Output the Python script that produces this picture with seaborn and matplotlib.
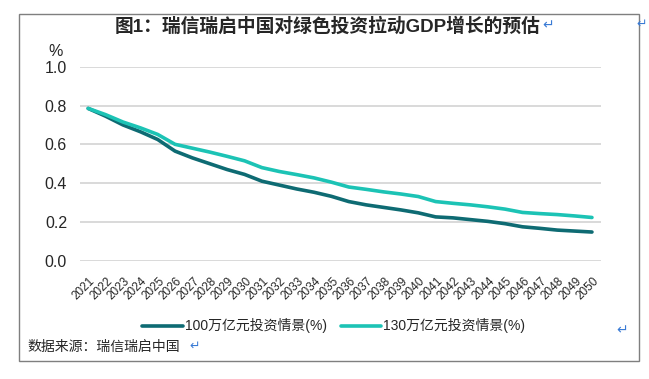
import matplotlib
matplotlib.use("Agg")
import matplotlib.pyplot as plt
import matplotlib.transforms as mtransforms
from matplotlib.font_manager import FontProperties
from matplotlib.patches import Rectangle
import pandas as pd
import seaborn as sns

# values
years = list(range(2021, 2051))
invest_100 = [0.785, 0.745, 0.700, 0.665, 0.625, 0.565, 0.530, 0.500, 0.470, 0.445,
              0.410, 0.390, 0.370, 0.353, 0.332, 0.305, 0.288, 0.275, 0.262, 0.247,
              0.226, 0.221, 0.212, 0.203, 0.191, 0.175, 0.167, 0.158, 0.153, 0.148]
invest_130 = [0.785, 0.753, 0.715, 0.685, 0.651, 0.600, 0.580, 0.560, 0.538, 0.515,
              0.480, 0.460, 0.444, 0.427, 0.405, 0.380, 0.368, 0.355, 0.344, 0.331,
              0.305, 0.296, 0.288, 0.278, 0.266, 0.249, 0.243, 0.238, 0.231, 0.223]
series_names = ["100万亿元投资情景(%)", "130万亿元投资情景(%)"]
series_colors = ["#0e6b73", "#1cc3b5"]
y_ticks = [0.0, 0.2, 0.4, 0.6, 0.8, 1.0]
title_text = "图1：瑞信瑞启中国对绿色投资拉动GDP增长的预估"
source_text = "数据来源：瑞信瑞启中国"
para_mark = "\u21b5"

df = pd.DataFrame({
    "year": years * 2,
    "value": invest_100 + invest_130,
    "scenario": [series_names[0]] * len(years) + [series_names[1]] * len(years),
})

sns.set_theme(style="white")
fonts = ["Liberation Sans", "Noto Sans CJK SC", "DejaVu Sans"]
plt.rcParams["font.family"] = fonts

fig = plt.figure(figsize=(6.49, 3.79), dpi=100)
ax = fig.add_axes([0.1225, 0.312, 0.803, 0.512])

sns.lineplot(data=df, x="year", y="value", hue="scenario",
             palette=dict(zip(series_names, series_colors)),
             linewidth=2.6, ax=ax)

ax.set_xlim(years[0] - 0.5, years[-1] + 0.5)
ax.set_ylim(0, 1.0)
ax.set_yticks(y_ticks)
ax.set_yticklabels([f"{v:.1f}" for v in y_ticks], fontsize=11.5)
ax.set_xticks(years)
ax.set_xticklabels([str(y) for y in years], rotation=45, ha="right",
                   va="center", rotation_mode="anchor", fontsize=8.5)
ax.tick_params(axis="y", length=0, pad=9)
ax.tick_params(axis="x", length=0, pad=13.5)
# excel puts the label end a bit right of the category centre
shift = mtransforms.ScaledTranslation(5 / 100, 0, fig.dpi_scale_trans)
for lbl in ax.get_xticklabels():
    lbl.set_transform(lbl.get_transform() + shift)
ax.set_xlabel("")
ax.set_ylabel("")
ax.grid(axis="y", color="#d9d9d9", linewidth=1.4)
ax.set_axisbelow(True)
for s in ax.spines.values():
    s.set_visible(False)

# legend under the axis
leg_font = FontProperties(family=fonts, size=10)
handles, labels = ax.get_legend_handles_labels()
ax.legend(handles, labels, loc="center", bbox_to_anchor=(0.514, 0.14),
          bbox_transform=fig.transFigure, ncol=2, frameon=False, prop=leg_font,
          handlelength=2.9, handletextpad=0.15, columnspacing=1.0)

fig.text(0.085, 0.865, "%", fontsize=11.5, ha="center", va="center")

fig.text(0.505, 0.931, title_text, fontsize=13.5, fontweight="bold",
         ha="center", va="center")
fig.text(0.845, 0.934, para_mark, fontsize=10, color="#3a7bd5",
         ha="center", va="center")
fig.text(0.988, 0.934, para_mark, fontsize=9, color="#3a7bd5",
         ha="center", va="center")
fig.text(0.958, 0.128, para_mark, fontsize=10, color="#3a7bd5",
         ha="center", va="center")

fig.text(0.043, 0.084, source_text, fontsize=10, ha="left", va="center")
fig.text(0.300, 0.086, para_mark, fontsize=9, color="#3a7bd5",
         ha="center", va="center")

# outer frame like the document box
fig.patches.append(Rectangle((19 / 649, 1 - 361 / 379), 620 / 649, 347 / 379,
                             transform=fig.transFigure, fill=False,
                             edgecolor="#7f7f7f", linewidth=1.0))

fig.savefig("out.png", dpi=100)
